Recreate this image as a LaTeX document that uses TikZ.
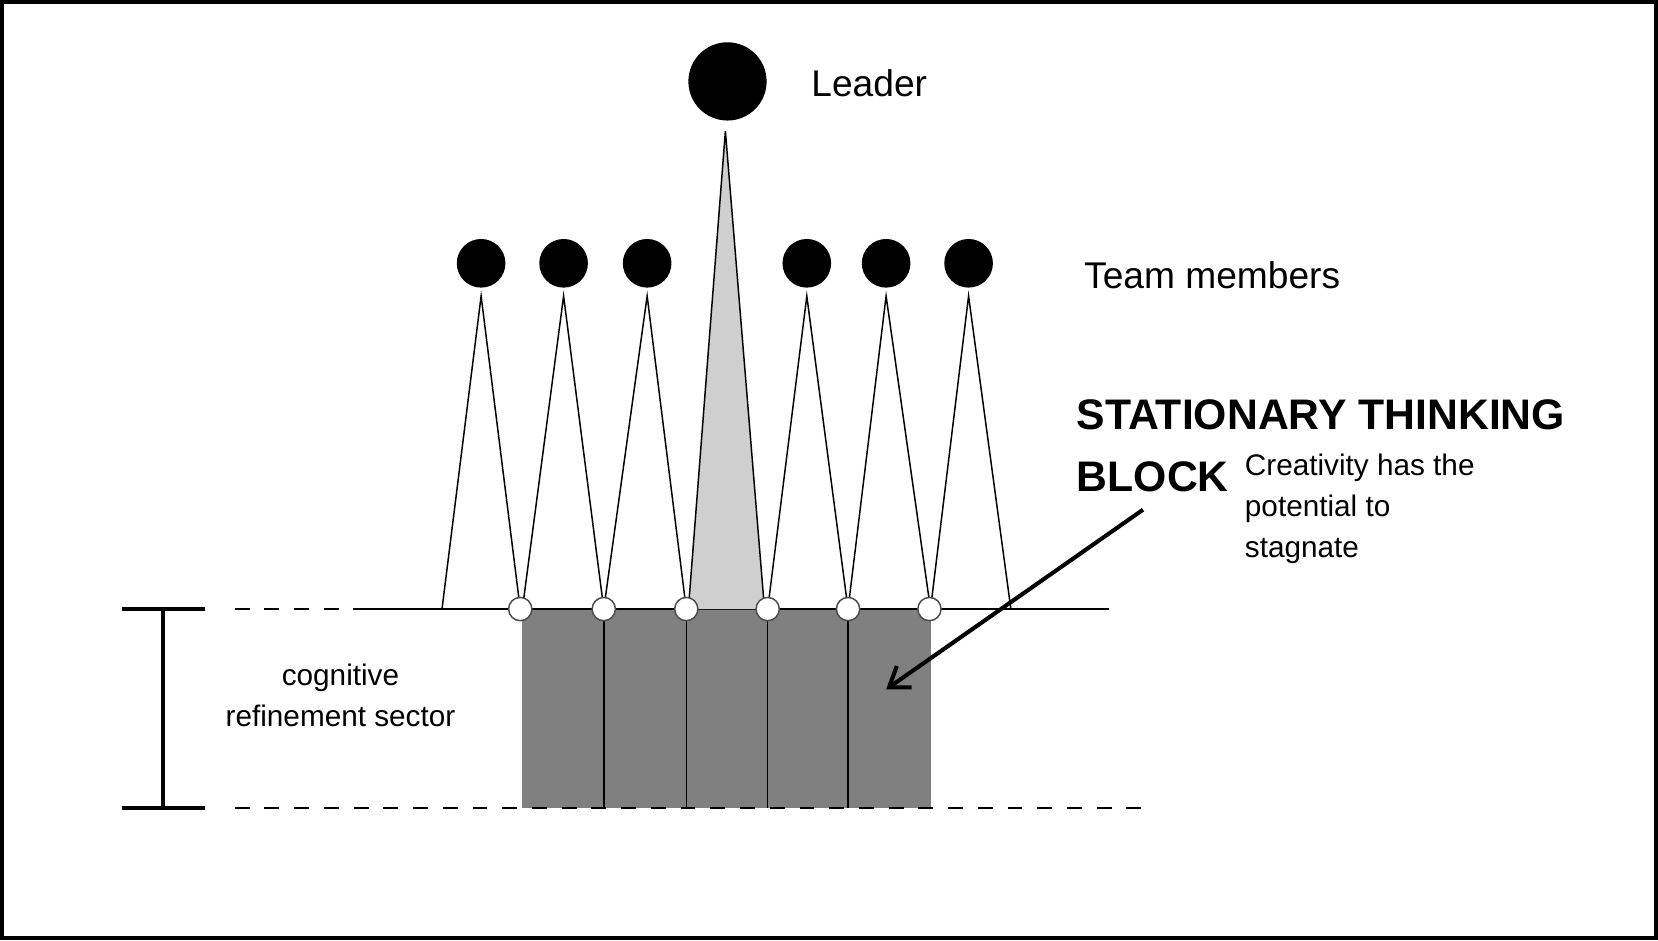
\documentclass[tikz,border=0pt]{standalone}
\usepackage{fontspec}
\setmainfont{Liberation Sans}
\usetikzlibrary{arrows.meta}
\begin{document}
\begin{tikzpicture}[x=0.02cm,y=-0.02cm,
  big/.style={circle,fill=black,inner sep=0pt,minimum size=74*0.02cm},
  mem/.style={circle,fill=black,inner sep=0pt,minimum size=46*0.02cm},
  joint/.style={circle,draw=black!70,fill=white,inner sep=0pt,minimum size=22*0.02cm,line width=0.8pt},
  tri/.style={line width=0.8pt},
  lbl/.style={font=\fontsize{20}{24}\selectfont,anchor=west,inner sep=0pt},
  small/.style={font=\fontsize{16}{22}\selectfont,inner sep=0pt,align=left},
  dashln/.style={dash pattern=on 8pt off 8pt,line width=0.8pt}]
\useasboundingbox (0,0) rectangle (1568,889);
\draw[line width=2.2pt] (2,2) rectangle (1566,887);
% gray block
\fill[black!50] (494,576) rectangle (880,764);
\foreach \x in {571,649,726,802}{\draw[line width=0.8pt] (\x,576) -- (\x,764);}
% lines
\draw[dashln] (222,576) -- (330,576);
\draw[line width=0.8pt] (334,576) -- (1049,576);
\draw[dashln] (222,764) -- (1090,764);
% leader triangle
\coordinate (lapex) at (686,124);
\fill[black!19] (lapex) -- (651,576) -- (723,576) -- cycle;
\draw[tri] (651,576) -- (lapex) -- (723,576);
\node[big] (leader) at (688,77) {};
\node[lbl] (leaderlbl) at (767,79) {Leader};
% team triangles
\foreach \n/\x/\l/\r in {1/455/418/492,2/533/494/571,3/612/571/649,4/763/726/802,5/838/802/880,6/916/880/956}{
  \node[mem] (m\n) at (\x,249) {};
  \coordinate (a\n) at (\x,280);
  \draw[tri] (\l,576) -- (a\n) -- (\r,576);
}
\node[lbl] (teamlbl) at (1025,260) {Team members};
\foreach \n/\x in {1/492,2/571,3/649,4/726,5/802,6/879}{\node[joint] (j\n) at (\x,576) {};}
% I bar
\draw[line width=2.2pt] (115,576) -- (194,576) (115,764) -- (194,764) (154,576) -- (154,764);
\node[small,align=center] (cog) at (322,658) {cognitive\\refinement sector};
% title
\node[font=\fontsize{23}{33}\selectfont\bfseries,anchor=north west,inner sep=0pt,align=left] (stb) at (1018,378) {STATIONARY THINKING\\BLOCK};
\node[small,anchor=north west] (crea) at (1177,429) {Creativity has the\\potential to\\stagnate};
\coordinate (arrS) at (1081,482);
\coordinate (arrE) at (838,652);
\draw[line width=2.2pt,-{Straight Barb[length=10pt,width=14pt]}] (arrS) -- (arrE);
\end{tikzpicture}
\end{document}
